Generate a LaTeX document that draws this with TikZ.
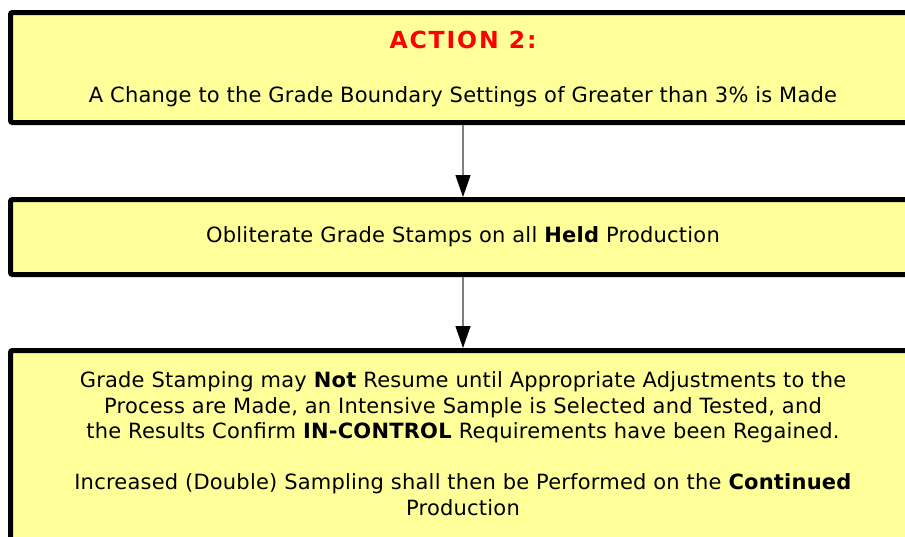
\documentclass[tikz,border=0pt]{standalone}
\usepackage{fontspec}
\setmainfont[LetterSpace = 1]{DejaVu Sans}
\newfontfamily\headfont[LetterSpace = 8]{DejaVu Sans}
\usetikzlibrary{arrows.meta}

\definecolor{boxyellow}{RGB}{255,255,153}
\definecolor{actred}{RGB}{255,0,0}

\tikzset{
	stepbox/.style = {draw = black, line width = 5pt, fill = boxyellow,
		rounded corners = 2pt, minimum width = 905pt, inner sep = 0pt},
	txt/.style = {anchor = base, inner sep = 0pt,
		font = \fontsize{21}{25.5}\selectfont},
	headtxt/.style = {anchor = base, inner sep = 0pt, text = actred,
		font = \fontsize{23.5}{25.5}\headfont\bfseries},
	flow/.style = {draw = gray, line width = 1.3pt,
		-{Triangle[length = 22pt, width = 15pt, color = black]}}
}

\begin{document}
\begin{tikzpicture}[x = 1pt, y = -1pt]
		\useasboundingbox (0,0) rectangle (905,536);

		% boxes
		\node[stepbox, minimum height = 110pt] (act) at (463,67.5) {};
		\node[stepbox, minimum height = 75pt] (obl) at (463,237) {};
		\node[stepbox, minimum height = 250pt] (res) at (463,475.5) {};

		% arrows
		\draw[flow] (act) -- (obl);
		\draw[flow] (obl) -- (res);

		% texts
		\node[headtxt] (head) at (463,48) {ACTION 2:};
		\node[txt] (change) at (463,102) {A Change to the Grade Boundary Settings of Greater than 3\% is Made};
		\node[txt] (held) at (463,242) {Obliterate Grade Stamps on all \textbf{Held} Production};
		\node[txt] (res1) at (463,387.5) {Grade Stamping may \textbf{Not} Resume until Appropriate Adjustments to the};
		\node[txt] (res2) at (463,413) {Process are Made, an Intensive Sample is Selected and Tested, and};
		\node[txt] (res3) at (463,438.5) {the Results Confirm \textbf{IN-CONTROL} Requirements have been Regained.};
		\node[txt] (res4) at (463,489.5) {Increased (Double) Sampling shall then be Performed on the \textbf{Continued}};
		\node[txt] (res5) at (463,515) {Production};
	\end{tikzpicture}
\end{document}
